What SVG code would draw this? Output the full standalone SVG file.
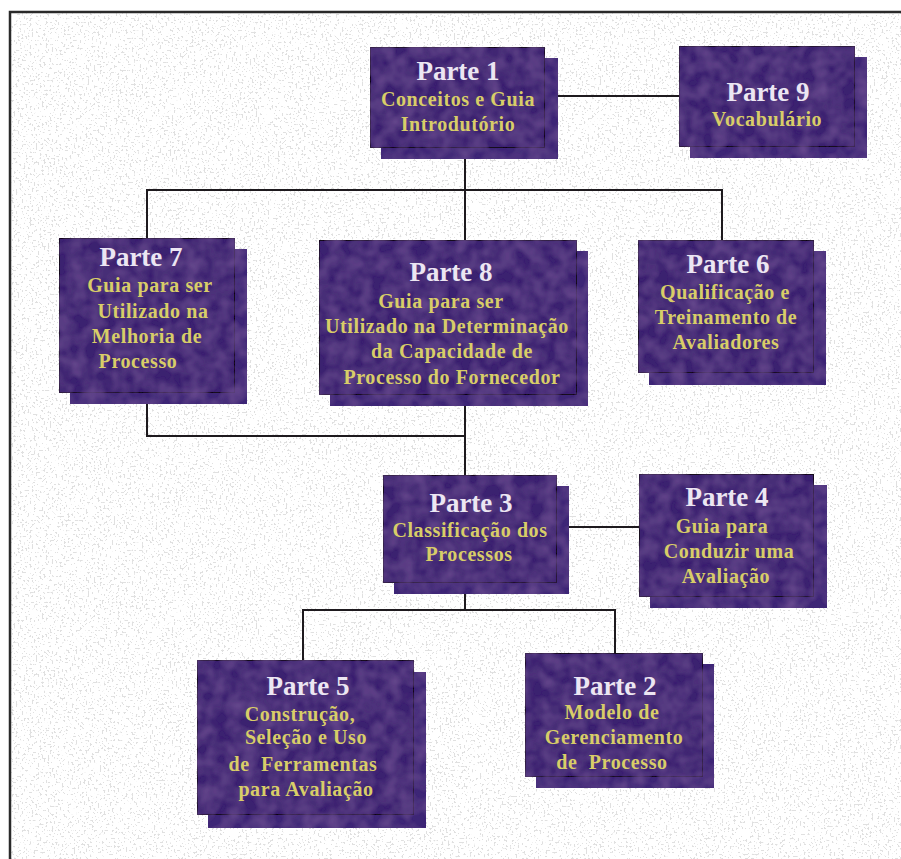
<svg xmlns="http://www.w3.org/2000/svg" width="901" height="859" viewBox="0 0 901 859">
  <defs>
    <style>
      .frame { stroke: #2a2a2a; stroke-width: 2.5; fill: none; }
      .link { stroke: #1e1a1e; stroke-width: 2; fill: none; }
      .shadow { fill: #3e2676; }
      .box { fill: #3a2370; stroke: #17101c; stroke-width: 2; }
      .title { font-family: "Liberation Serif", "Times New Roman", serif; font-weight: bold; font-size: 27px; fill: #ece6f2; text-anchor: middle; }
      .sub { font-family: "Liberation Serif", "Times New Roman", serif; font-weight: bold; font-size: 20px; letter-spacing: 0.6px; fill: #d8cd68; text-anchor: middle; }
    </style>
    <!-- darker blotches laid over the purple boxes -->
    <filter id="mottle" x="0" y="0" width="100%" height="100%">
      <feTurbulence type="fractalNoise" baseFrequency="0.07" numOctaves="2" seed="4" result="n"/>
      <feColorMatrix in="n" type="matrix" values="0 0 0 0 0.16  0 0 0 0 0.08  0 0 0 0 0.30  0 0 0 1.2 -0.35" result="tint"/>
      <feComposite in="tint" in2="SourceGraphic" operator="in" result="spots"/>
      <feMerge><feMergeNode in="SourceGraphic"/><feMergeNode in="spots"/></feMerge>
    </filter>
    <!-- sparse grey speckle on the paper -->
    <filter id="speckle" x="0" y="0" width="100%" height="100%">
      <feTurbulence type="fractalNoise" baseFrequency="0.5" numOctaves="1" seed="9" result="n"/>
      <feColorMatrix in="n" type="matrix" values="0 0 0 0 0.5  0 0 0 0 0.5  0 0 0 0 0.5  0 0 0 -25 9.5"/>
    </filter>
  </defs>

  <rect width="901" height="859" fill="#ffffff"/>
  <rect x="11" y="13" width="890" height="846" fill="#ffffff" filter="url(#speckle)" opacity="0.45"/>

  <!-- outer frame: top and left edges -->
  <path class="frame" d="M10 859 V12 H901"/>

  <!-- connectors -->
  <g id="connectors">
    <path class="link" d="M545 96 H679"/>
    <path class="link" d="M465 148 V190"/>
    <path class="link" d="M147 238 V190 H722 V240"/>
    <path class="link" d="M465 190 V240"/>
    <path class="link" d="M147 393 V436 H465"/>
    <path class="link" d="M465 395 V475"/>
    <path class="link" d="M557 527 H639"/>
    <path class="link" d="M465 583 V610"/>
    <path class="link" d="M303 660 V610 H615 V653"/>
  </g>

  <g id="parte1">
    <rect class="shadow" x="381" y="58" width="177" height="101" filter="url(#mottle)"/>
    <rect class="box" x="370" y="47" width="175" height="101" filter="url(#mottle)"/>
    <text class="title" x="458" y="80">Parte 1</text>
    <text class="sub" x="458" y="106">Conceitos e Guia</text>
    <text class="sub" x="458" y="131">Introdutório</text>
  </g>

  <g id="parte9">
    <rect class="shadow" x="690" y="57" width="177" height="101" filter="url(#mottle)"/>
    <rect class="box" x="679" y="46" width="176" height="101" filter="url(#mottle)"/>
    <text class="title" x="768" y="101">Parte 9</text>
    <text class="sub" x="767" y="126">Vocabulário</text>
  </g>

  <g id="parte7">
    <rect class="shadow" x="70" y="249" width="177" height="155" filter="url(#mottle)"/>
    <rect class="box" x="59" y="238" width="176" height="155" filter="url(#mottle)"/>
    <text class="title" x="141" y="266">Parte 7</text>
    <text class="sub" x="150" y="292">Guia para ser</text>
    <text class="sub" x="153" y="318">Utilizado na</text>
    <text class="sub" x="147" y="343">Melhoria de</text>
    <text class="sub" x="138" y="368">Processo</text>
  </g>

  <g id="parte8">
    <rect class="shadow" x="330" y="251" width="258" height="155" filter="url(#mottle)"/>
    <rect class="box" x="319" y="240" width="258" height="155" filter="url(#mottle)"/>
    <text class="title" x="451" y="281">Parte 8</text>
    <text class="sub" x="441" y="308">Guia para ser</text>
    <text class="sub" x="447" y="333">Utilizado na Determinação</text>
    <text class="sub" x="452" y="358">da Capacidade de</text>
    <text class="sub" x="452" y="384">Processo do Fornecedor</text>
  </g>

  <g id="parte6">
    <rect class="shadow" x="649" y="251" width="177" height="134" filter="url(#mottle)"/>
    <rect class="box" x="638" y="240" width="176" height="133" filter="url(#mottle)"/>
    <text class="title" x="728" y="273">Parte 6</text>
    <text class="sub" x="725" y="299">Qualificação e</text>
    <text class="sub" x="726" y="324">Treinamento de</text>
    <text class="sub" x="726" y="349">Avaliadores</text>
  </g>

  <g id="parte3">
    <rect class="shadow" x="394" y="486" width="175" height="108" filter="url(#mottle)"/>
    <rect class="box" x="383" y="475" width="174" height="108" filter="url(#mottle)"/>
    <text class="title" x="471" y="512">Parte 3</text>
    <text class="sub" x="470" y="537">Classificação dos</text>
    <text class="sub" x="469" y="561">Processos</text>
  </g>

  <g id="parte4">
    <rect class="shadow" x="650" y="485" width="177" height="123" filter="url(#mottle)"/>
    <rect class="box" x="639" y="474" width="175" height="123" filter="url(#mottle)"/>
    <text class="title" x="727" y="506">Parte 4</text>
    <text class="sub" x="722" y="533">Guia para</text>
    <text class="sub" x="729" y="558">Conduzir uma</text>
    <text class="sub" x="726" y="583">Avaliação</text>
  </g>

  <g id="parte5">
    <rect class="shadow" x="208" y="672" width="218" height="156" filter="url(#mottle)"/>
    <rect class="box" x="197" y="660" width="217" height="155" filter="url(#mottle)"/>
    <text class="title" x="308" y="695">Parte 5</text>
    <text class="sub" x="300" y="721">Construção,</text>
    <text class="sub" x="306" y="744">Seleção e Uso</text>
    <text class="sub" x="303" y="771" xml:space="preserve">de  Ferramentas</text>
    <text class="sub" x="306" y="796">para Avaliação</text>
  </g>

  <g id="parte2">
    <rect class="shadow" x="536" y="664" width="178" height="124" filter="url(#mottle)"/>
    <rect class="box" x="525" y="653" width="178" height="124" filter="url(#mottle)"/>
    <text class="title" x="615" y="695">Parte 2</text>
    <text class="sub" x="612" y="719">Modelo de</text>
    <text class="sub" x="614" y="744">Gerenciamento</text>
    <text class="sub" x="612" y="769" xml:space="preserve">de  Processo</text>
  </g>
</svg>
